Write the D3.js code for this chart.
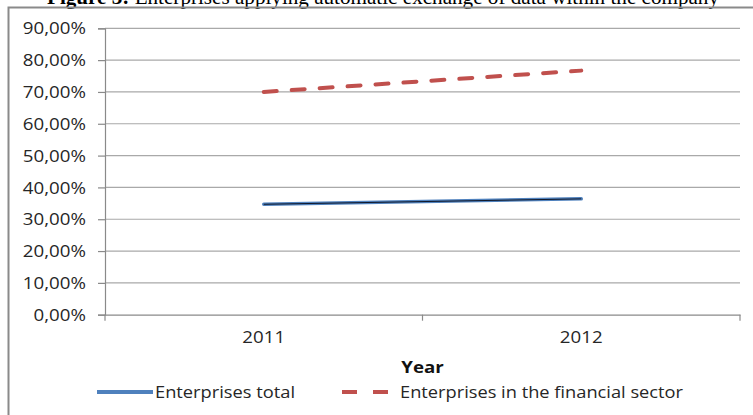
<!DOCTYPE html>
<html><head><meta charset="utf-8">
<script src="https://cdn.jsdelivr.net/npm/d3@7/dist/d3.min.js"></script>
<style>html,body{margin:0;padding:0;background:#fff;overflow:hidden}</style>
</head><body>
<svg id="c" width="753" height="415"></svg>
<script>
const categories = ["2011", "2012"];
const seriesNames = ["Enterprises total", "Enterprises in the financial sector"];
const totalValues = [34.7, 36.4];
const financialValues = [70.0, 76.7];
const yTicks = [0, 10, 20, 30, 40, 50, 60, 70, 80, 90];
const xTitle = "Year";

const svg = d3.select("#c");
const font = "'Open Sans', Lato, sans-serif";
const fs = 16, sx = 1.17;
const L = 105, R = 740, T = 28.3, B = 314.7;

// title (clipped at the top)
svg.append("text").attr("x", 383).attr("y", 4).attr("text-anchor", "middle")
  .attr("font-family", "'Liberation Serif', 'Times New Roman', serif").attr("font-size", 21)
  .attr("fill", "#000").attr("textLength", 672).attr("lengthAdjust", "spacingAndGlyphs")
  .html('<tspan font-weight="bold">Figure 3:</tspan> Enterprises applying automatic exchange of data within the company');

// frame
svg.append("path").attr("d", "M8.5,420 V7.5 H760").attr("fill", "none")
  .attr("stroke", "#8a8a8a").attr("stroke-width", 2);

const x = d3.scaleBand().domain(categories).range([L, R]);
const y = d3.scaleLinear().domain([0, 90]).range([B, T]);

// gridlines
svg.append("g").selectAll("line").data(yTicks.filter(d => d > 0)).join("line")
  .attr("x1", L).attr("x2", R).attr("y1", d => y(d)).attr("y2", d => y(d))
  .attr("stroke", "#a9a9a9").attr("stroke-width", 1.2);

// y axis
const yAxis = d3.axisLeft(y).tickValues(yTicks).tickSize(7).tickPadding(12)
  .tickFormat(d => d3.format(".2f")(d).replace(".", ",") + "%");
const gy = svg.append("g").attr("transform", `translate(${L},0)`).call(yAxis);
gy.select(".domain").attr("stroke", "#8a8a8a").attr("stroke-width", 1.2);
gy.selectAll(".tick line").attr("stroke", "#8a8a8a").attr("stroke-width", 1.2);
gy.selectAll(".tick text").attr("font-family", font).attr("font-size", fs)
  .attr("fill", "#262626").attr("dy", "0.35em").attr("x", 0)
  .attr("transform", `translate(-19,0) scale(${sx},1)`);

// x axis
const gx = svg.append("g").attr("transform", `translate(0,${B})`)
  .call(d3.axisBottom(x).tickSize(0).tickPadding(17));
gx.select(".domain").attr("stroke", "#8a8a8a").attr("stroke-width", 1.2);
gx.selectAll(".tick text").attr("font-family", font).attr("font-size", fs).attr("fill", "#262626")
  .attr("transform", `scale(${sx},1)`);
const bounds = [L, ...categories.slice(1).map(c => x(c)), R];
gx.append("g").selectAll("line").data(bounds).join("line")
  .attr("x1", d => d).attr("x2", d => d).attr("y1", 0).attr("y2", 6)
  .attr("stroke", "#8a8a8a").attr("stroke-width", 1.2);

svg.append("text").attr("x", 0).attr("y", 0).attr("text-anchor", "middle")
  .attr("transform", `translate(${(L + R) / 2},373) scale(${sx},1)`)
  .attr("font-family", font).attr("font-weight", "bold").attr("font-size", fs)
  .attr("fill", "#111").text(xTitle);

const cx = c => x(c) + x.bandwidth() / 2;
const line = d3.line().x((d, i) => cx(categories[i])).y(d => y(d));

svg.append("path").datum(financialValues).attr("d", line).attr("fill", "none")
  .attr("stroke", "#C0504D").attr("stroke-width", 4).attr("stroke-dasharray", "13,15")
  .attr("stroke-linecap", "round");
svg.append("path").datum(totalValues).attr("d", line).attr("fill", "none")
  .attr("stroke", "#4F81BD").attr("stroke-width", 3.5).attr("stroke-linecap", "round");
svg.append("path").datum(totalValues).attr("d", line).attr("fill", "none")
  .attr("stroke", "#10182a").attr("stroke-width", 1);

// legend
const lg = svg.append("g");
lg.append("line").attr("x1", 97).attr("x2", 153).attr("y1", 392).attr("y2", 392)
  .attr("stroke", "#4F81BD").attr("stroke-width", 4);
lg.append("text").attr("x", 155).attr("y", 398).attr("font-family", font).attr("font-size", fs)
  .attr("fill", "#262626").attr("textLength", 140).attr("lengthAdjust", "spacingAndGlyphs")
  .text(seriesNames[0]);
lg.append("line").attr("x1", 342).attr("x2", 388).attr("y1", 392).attr("y2", 392)
  .attr("stroke", "#C0504D").attr("stroke-width", 4).attr("stroke-dasharray", "15,16");
lg.append("text").attr("x", 400).attr("y", 398).attr("font-family", font).attr("font-size", fs)
  .attr("fill", "#262626").attr("textLength", 283).attr("lengthAdjust", "spacingAndGlyphs")
  .text(seriesNames[1]);
</script>
</body></html>
